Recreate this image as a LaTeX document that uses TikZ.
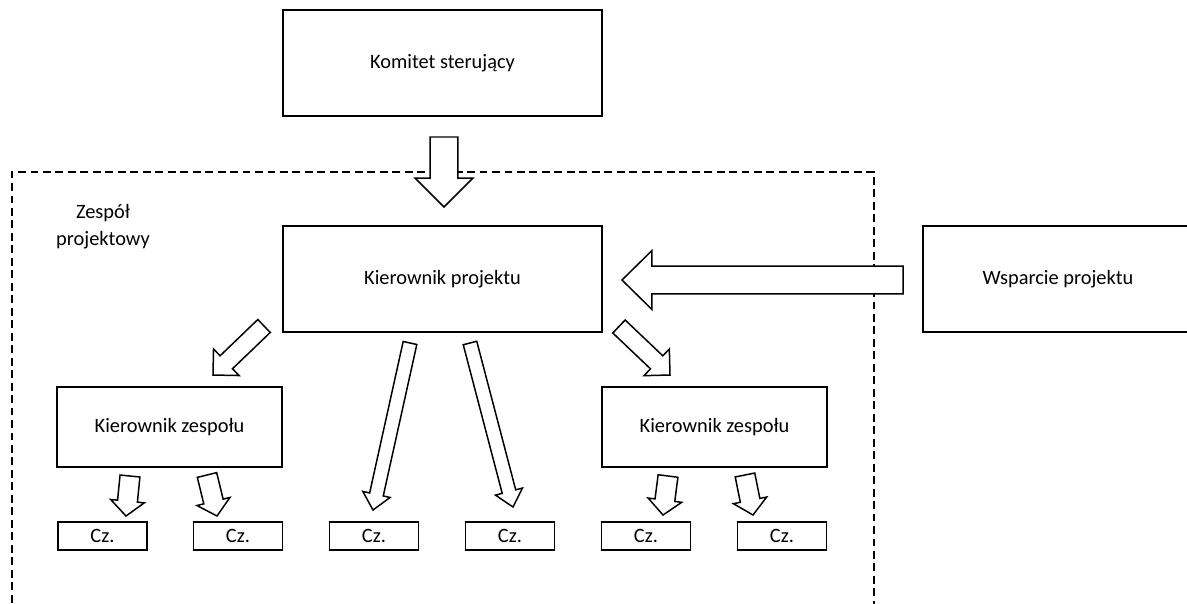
\documentclass[tikz,border=0pt]{standalone}
\usepackage{fontspec}
\setmainfont{Carlito}
\usetikzlibrary{calc}
\tikzset{
  box/.style={draw, line width=1.1pt, inner sep=0pt, outer sep=0pt,
    font=\fontsize{11.6}{14}\selectfont},
  czbox/.style={box, minimum width=1.78cm, minimum height=0.56cm},
  frame/.style={line width=1.1pt, dash pattern=on 4.5pt off 2.6pt},
  blk/.style={draw, line width=0.85pt, fill=white, line join=miter},
}
\newcommand\blockarrow[5]{% tail, tip, shaft half width, head half width, head length (px)
  \path ($(#2)!{#5*0.5669pt}!(#1)$) coordinate (bah);
  \draw[blk] ($(#1)!{#3*0.5669pt}!90:(#2)$) -- ($(bah)!{#3*0.5669pt}!90:(#2)$)
    -- ($(bah)!{#4*0.5669pt}!90:(#2)$) -- (#2) -- ($(bah)!{#4*0.5669pt}!-90:(#2)$)
    -- ($(bah)!{#3*0.5669pt}!-90:(#2)$) -- ($(#1)!{#3*0.5669pt}!-90:(#2)$) -- cycle;
}
\begin{document}
\begin{tikzpicture}[x=0.02cm, y=-0.02cm]
\clip (0,0) rectangle (1187,603);
\fill[white] (0,0) rectangle (1187,603);

% dashed frame of the project team (open at the bottom)
\draw[frame] (12,640) -- (12,172) -- (874,172) -- (874,640);
\node[align=center, font=\fontsize{11.6}{15.3}\selectfont] (zp) at (103,227) {Zespół\\projektowy};

% boxes
\node[box, minimum width=6.38cm, minimum height=2.12cm] (ks) at (442.5,63) {Komitet sterujący};
\node[box, minimum width=6.38cm, minimum height=2.12cm] (kp) at (442.5,279) {Kierownik projektu};
\node[box, minimum width=5.4cm, minimum height=2.12cm] (ws) at (1058,279) {Wsparcie projektu};
\node[box, minimum width=4.5cm, minimum height=1.6cm] (kzl) at (169.5,427) {Kierownik zespołu};
\node[box, minimum width=4.5cm, minimum height=1.6cm] (kzr) at (714.5,427) {Kierownik zespołu};
\node[czbox] (cz1) at (102.5,536) {Cz.};
\node[czbox] (cz2) at (238,536) {Cz.};
\node[czbox] (cz3) at (374,536) {Cz.};
\node[czbox] (cz4) at (510,536) {Cz.};
\node[czbox] (cz5) at (646,536) {Cz.};
\node[czbox] (cz6) at (782,536) {Cz.};

% arrow end points
\coordinate (a1s) at ($(ks.south)+(1.5,21)$);
\coordinate (a1e) at ($(kp.north)+(1.5,-19)$);
\coordinate (a2s) at ($(ws.west)+(-20,1)$);
\coordinate (a2e) at ($(kp.east)+(20,1)$);
\coordinate (a3s) at ($(kp.south west)+(-19,-6)$);
\coordinate (a3e) at ($(kzl.north)+(43.5,-12)$);
\coordinate (a4s) at ($(kp.south east)+(17,-5.5)$);
\coordinate (a4e) at ($(kzr.north)+(-44.5,-12)$);
\coordinate (a5s) at ($(kp.south)+(-32.5,11)$);
\coordinate (a5e) at ($(cz3.north)+(-1,-12)$);
\coordinate (a6s) at ($(kp.south)+(27.5,11)$);
\coordinate (a6e) at ($(cz4.north)+(3,-15)$);
\coordinate (a7s) at ($(kzl.south)+(-39.5,9)$);
\coordinate (a7e) at ($(cz1.north)+(23.5,-6)$);
\coordinate (a8s) at ($(kzl.south)+(37.5,8)$);
\coordinate (a8e) at ($(cz2.north)+(-21,-6)$);
\coordinate (a9s) at ($(kzr.south)+(-46.5,9)$);
\coordinate (a9e) at ($(cz5.north)+(17,-7)$);
\coordinate (a10s) at ($(kzr.south)+(30.5,8)$);
\coordinate (a10e) at ($(cz6.north)+(-29,-7)$);

% block arrows
\blockarrow{a1s}{a1e}{14}{29}{29}
\blockarrow{a2s}{a2e}{14}{29.5}{30}
\blockarrow{a3s}{a3e}{9}{18.5}{18.5}
\blockarrow{a4s}{a4e}{9}{18.5}{18.5}
\blockarrow{a5s}{a5e}{7}{14}{16}
\blockarrow{a6s}{a6e}{7}{14}{16}
\blockarrow{a7s}{a7e}{10}{17}{15}
\blockarrow{a8s}{a8e}{10}{17}{15}
\blockarrow{a9s}{a9e}{10}{17}{15}
\blockarrow{a10s}{a10e}{10}{17}{15}
\end{tikzpicture}
\end{document}
